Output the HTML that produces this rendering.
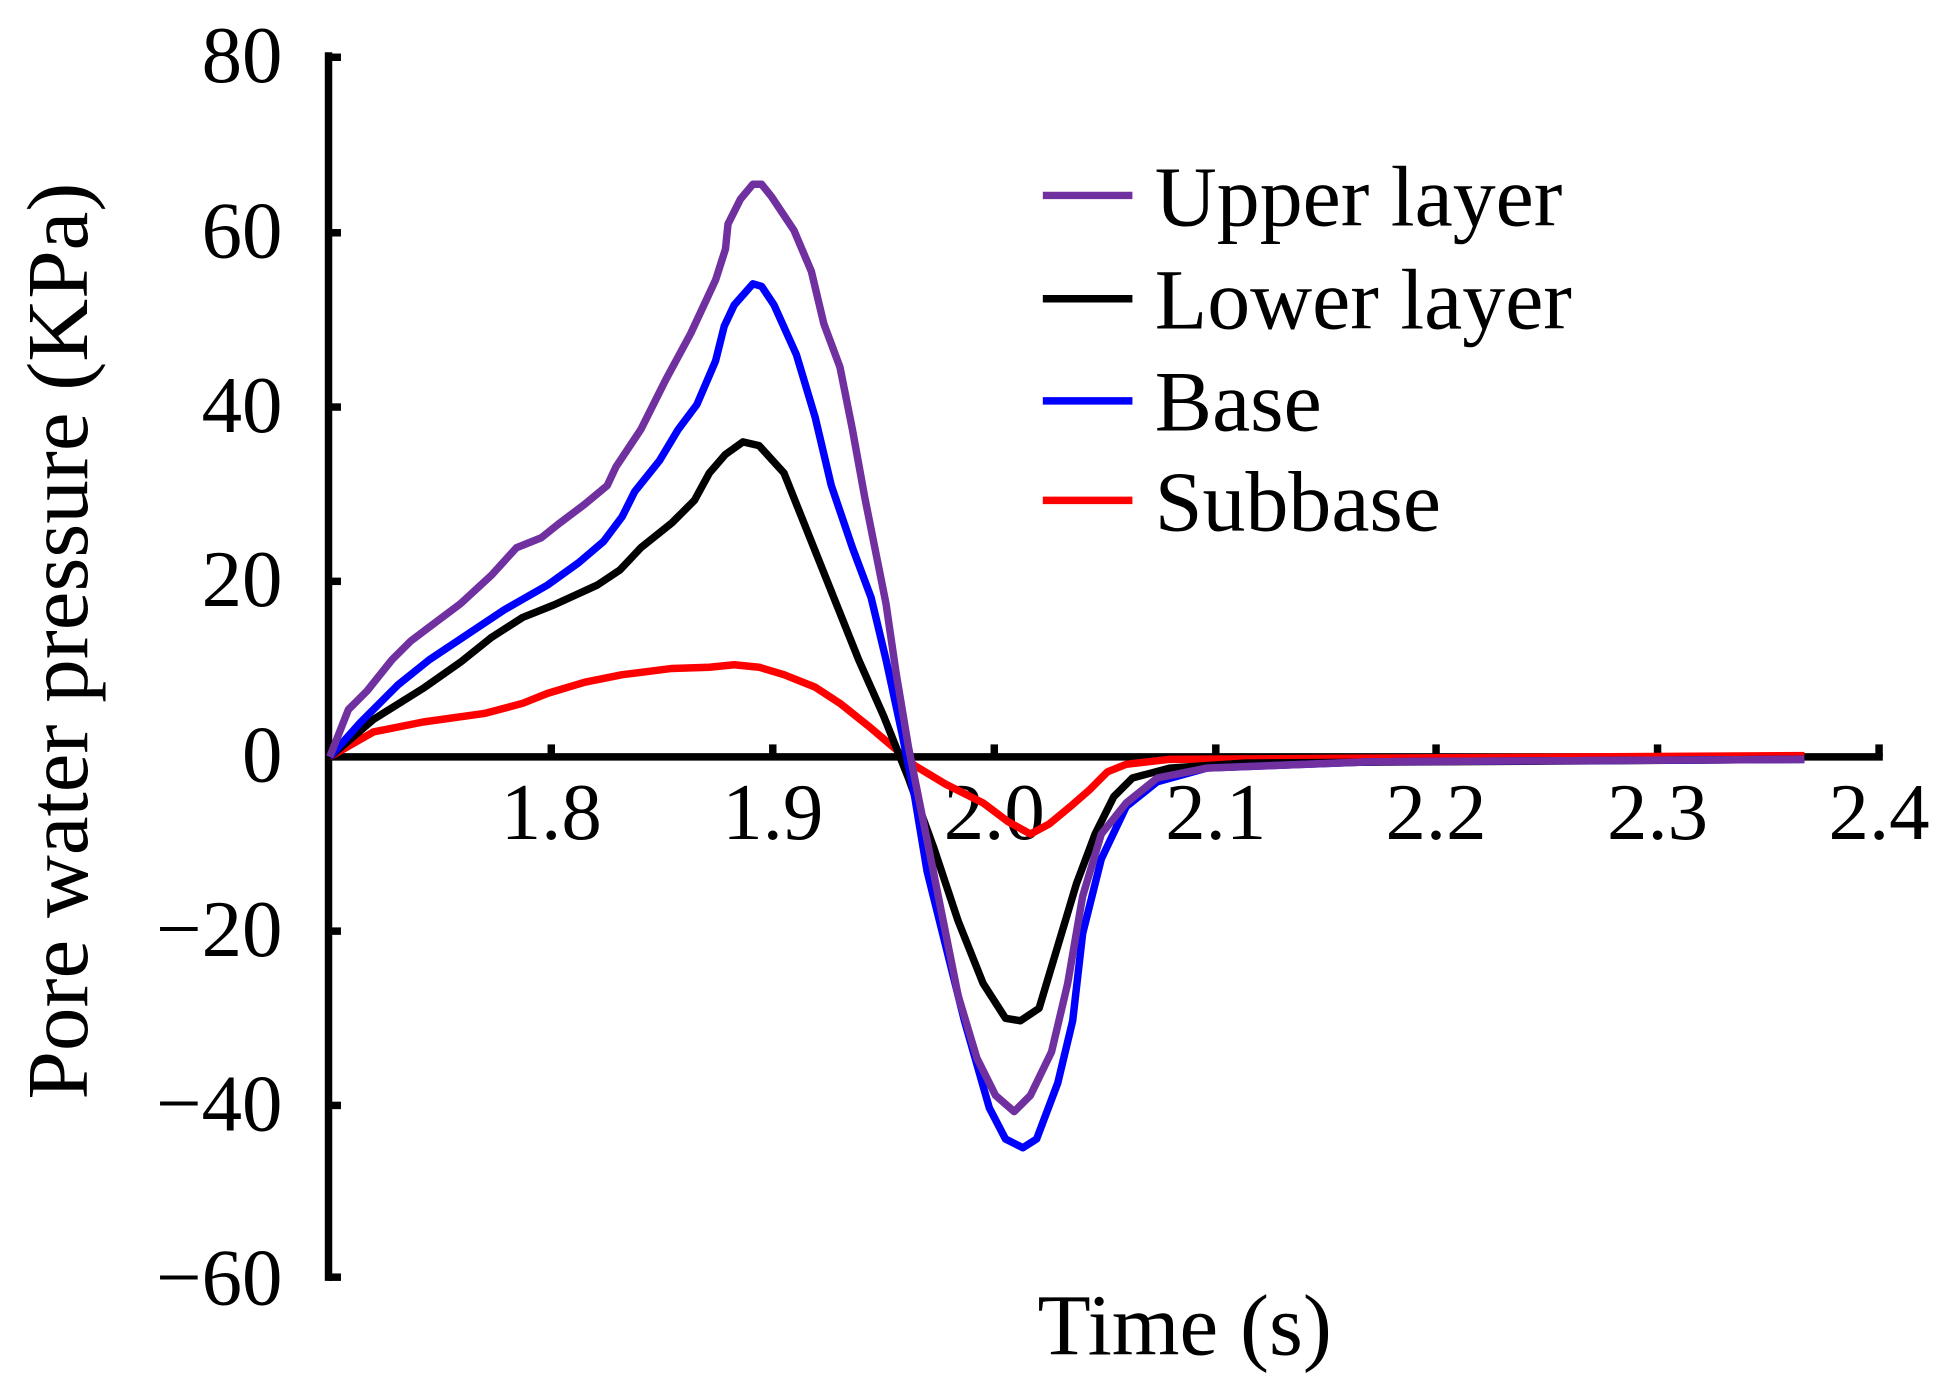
<!DOCTYPE html>
<html><head><meta charset="utf-8"><style>
html,body{margin:0;padding:0;background:#fff;}
svg{display:block;}
text{font-family:"Liberation Serif",serif;fill:#000;}
</style></head><body>
<svg width="1950" height="1383" viewBox="0 0 1567 1111" preserveAspectRatio="none" xmlns="http://www.w3.org/2000/svg">
<g stroke="#000" stroke-width="6" fill="none">
<line x1="264" y1="42" x2="264" y2="1029"/>
<line x1="264" y1="608" x2="1513" y2="608"/>
<line x1="264" y1="46" x2="274" y2="46"/>
<line x1="264" y1="187" x2="274" y2="187"/>
<line x1="264" y1="327" x2="274" y2="327"/>
<line x1="264" y1="467" x2="274" y2="467"/>
<line x1="264" y1="748" x2="274" y2="748"/>
<line x1="264" y1="888" x2="274" y2="888"/>
<line x1="264" y1="1026" x2="274" y2="1026"/>
<line x1="443" y1="608" x2="443" y2="598"/>
<line x1="621" y1="608" x2="621" y2="598"/>
<line x1="799" y1="608" x2="799" y2="598"/>
<line x1="977" y1="608" x2="977" y2="598"/>
<line x1="1154" y1="608" x2="1154" y2="598"/>
<line x1="1332" y1="608" x2="1332" y2="598"/>
<line x1="1510" y1="608" x2="1510" y2="598"/>
</g>
<g font-size="65" text-anchor="end">
<text x="227" y="66">80</text>
<text x="227" y="207">60</text>
<text x="227" y="347">40</text>
<text x="227" y="487">20</text>
<text x="227" y="628">0</text>
<text x="227" y="768">−20</text>
<text x="227" y="908">−40</text>
<text x="227" y="1048">−60</text>
</g>
<g font-size="65" text-anchor="middle">
<text x="443" y="674">1.8</text>
<text x="621" y="674">1.9</text>
<text x="799" y="674">2.0</text>
<text x="977" y="674">2.1</text>
<text x="1154" y="674">2.2</text>
<text x="1332" y="674">2.3</text>
<text x="1510" y="674">2.4</text>
</g>
<text x="952" y="1088" font-size="70" text-anchor="middle">Time (s)</text>
<text transform="translate(70,515) rotate(-90)" font-size="70" text-anchor="middle">Pore water pressure (KPa)</text>
<g fill="none" stroke-width="6" stroke-linejoin="round">
<polyline stroke="#ff0000" points="265,608 300,588 340,580 390,573 420,565 440,557 470,548 500,542 540,537 570,536 590,534 610,536 630,542 655,552 675,565 700,585 720,602 735,615 760,630 790,645 810,660 828,670 843,662 860,648 875,635 890,620 905,614 940,610 1100,609 1450,607"/>
<polyline stroke="#000" points="265,608 300,578 340,553 370,532 395,512 420,496 445,486 480,470 498,458 515,440 540,420 558,402 570,380 583,365 597,355 610,358 630,380 650,430 670,480 690,530 710,575 730,625 750,680 770,740 790,790 808,818 820,820 835,810 850,760 865,710 880,670 895,640 910,625 940,617 1000,613 1450,610"/>
<polyline stroke="#0000ff" points="265,608 290,580 320,550 345,530 375,510 405,490 440,470 465,452 485,435 500,415 510,395 530,370 545,345 560,325 575,290 582,262 590,245 605,228 612,230 622,245 640,285 655,335 668,390 685,440 700,480 712,530 725,590 735,640 745,700 760,760 775,820 795,890 808,915 822,922 833,915 850,870 862,820 870,750 885,690 905,648 930,628 970,617 1100,612 1450,610"/>
<polyline stroke="#7030a0" points="265,608 280,570 295,555 315,530 330,515 350,500 370,485 395,462 415,440 435,432 450,420 470,405 488,390 495,375 515,345 535,305 555,268 575,225 583,200 585,180 595,160 605,148 612,148 620,158 638,185 652,218 662,260 675,295 685,345 695,400 705,450 712,485 720,540 730,600 740,650 750,700 760,750 770,800 785,850 800,880 815,893 828,880 845,845 858,790 870,720 885,670 905,645 930,625 970,617 1100,612 1450,610"/>
</g>
<g stroke-width="6">
<line x1="838" y1="157" x2="910" y2="157" stroke="#7030a0"/>
<line x1="838" y1="240" x2="910" y2="240" stroke="#000"/>
<line x1="838" y1="322" x2="910" y2="322" stroke="#0000ff"/>
<line x1="838" y1="402" x2="910" y2="402" stroke="#ff0000"/>
</g>
<g font-size="69">
<text x="928" y="181">Upper layer</text>
<text x="928" y="264">Lower layer</text>
<text x="928" y="346">Base</text>
<text x="928" y="426">Subbase</text>
</g>
</svg>
</body></html>
